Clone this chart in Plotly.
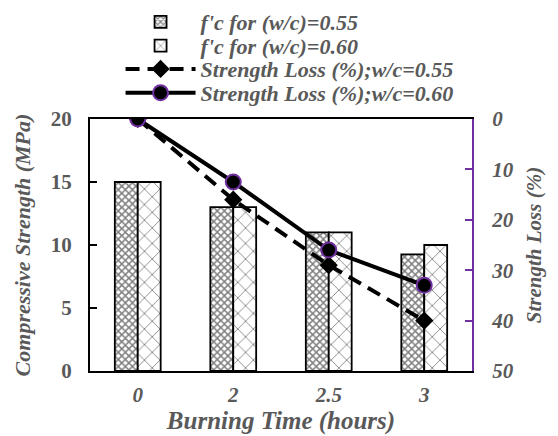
import plotly.graph_objects as go

categories = ["0", "2", "2.5", "3"]
fc_055 = [15, 13, 11, 9.25]
fc_060 = [15, 13, 11, 10]
loss_055 = [0, 16, 29, 40]
loss_060 = [0, 12.5, 26, 33]
series_names = ["f'c for (w/c)=0.55", "f'c for (w/c)=0.60",
                "Strength Loss (%);w/c=0.55", "Strength Loss (%);w/c=0.60"]

GRAY = "#595959"
PURPLE = "#7030A0"
FONT = "Liberation Serif"


def bi(s):
    return "<b><i>" + s + "</i></b>"


fig = go.Figure()
fig.add_trace(go.Bar(
    x=categories, y=fc_055, name=bi(series_names[0]), legend="legend",
    marker=dict(color="white", line=dict(color="black", width=1.8),
                pattern=dict(shape="x", size=5, solidity=0.5, fgcolor="black", bgcolor="white")),
))
fig.add_trace(go.Bar(
    x=categories, y=fc_060, name=bi(series_names[1]), legend="legend2",
    marker=dict(color="white", line=dict(color="black", width=1.8),
                pattern=dict(shape="x", size=11, solidity=0.15, fgcolor="black", bgcolor="white")),
))
fig.add_trace(go.Scatter(
    x=categories, y=loss_055, yaxis="y2", name=bi(series_names[2]), legend="legend3",
    mode="lines+markers",
    line=dict(color="black", width=4, dash="14px,8px"),
    marker=dict(symbol="diamond", size=14, color="black"),
))
fig.add_trace(go.Scatter(
    x=categories, y=loss_060, yaxis="y2", name=bi(series_names[3]), legend="legend4",
    mode="lines+markers",
    line=dict(color="black", width=4),
    marker=dict(symbol="circle", size=15, color="black", line=dict(color=PURPLE, width=2)),
))

leg_common = dict(x=0.08, xanchor="left", yanchor="middle", bgcolor="rgba(0,0,0,0)",
                  font=dict(family=FONT, size=22, color=GRAY), itemwidth=70)
row_y = [1.385, 1.29, 1.198, 1.103]

fig.update_layout(
    width=550, height=428,
    margin=dict(l=82, r=86, t=111, b=65, autoexpand=False),
    paper_bgcolor="white", plot_bgcolor="white",
    font=dict(family=FONT, color=GRAY, size=18),
    barmode="group", bargap=0.52, bargroupgap=0,
    showlegend=True,
    legend=dict(y=row_y[0], **leg_common),
    legend2=dict(y=row_y[1], **leg_common),
    legend3=dict(y=row_y[2], **leg_common),
    legend4=dict(y=row_y[3], **leg_common),
    xaxis=dict(
        type="category", automargin=False,
        showline=True, linecolor="black", linewidth=2, mirror=True,
        ticks="", showgrid=False,
        tickfont=dict(family=FONT, size=21, color=GRAY),
        ticktext=[bi(c) for c in categories],
        tickvals=categories,
        ticklabelstandoff=4,
        title=dict(text=bi("Burning Time (hours)"), font=dict(family=FONT, size=25, color=GRAY), standoff=0),
    ),
    yaxis=dict(
        range=[0, 20], tickvals=[0, 5, 10, 15, 20], automargin=False,
        ticktext=["<b>0</b>", "<b>5</b>", "<b>10</b>", "<b>15</b>", "<b>20</b>"],
        showline=True, linecolor="black", linewidth=2,
        ticks="inside", ticklen=7, tickwidth=2, tickcolor="black",
        showgrid=False, zeroline=False,
        tickfont=dict(family=FONT, size=21, color=GRAY),
        ticklabelstandoff=12,
        title=dict(text=bi("Compressive Strength (MPa)"), font=dict(family=FONT, size=22, color=GRAY), standoff=14),
    ),
    yaxis2=dict(
        overlaying="y", side="right", automargin=False,
        range=[50, 0], tickvals=[0, 10, 20, 30, 40, 50],
        ticktext=[bi(str(v)) for v in [0, 10, 20, 30, 40, 50]],
        showline=True, linecolor=PURPLE, linewidth=2,
        ticks="inside", ticklen=7, tickwidth=2, tickcolor=PURPLE,
        showgrid=False, zeroline=False,
        tickfont=dict(family=FONT, size=21, color=GRAY),
        ticklabelstandoff=14,
        title=dict(text=bi("Strength Loss (%)"), font=dict(family=FONT, size=21, color=GRAY), standoff=14),
    ),
)

fig.write_html("out.html")
